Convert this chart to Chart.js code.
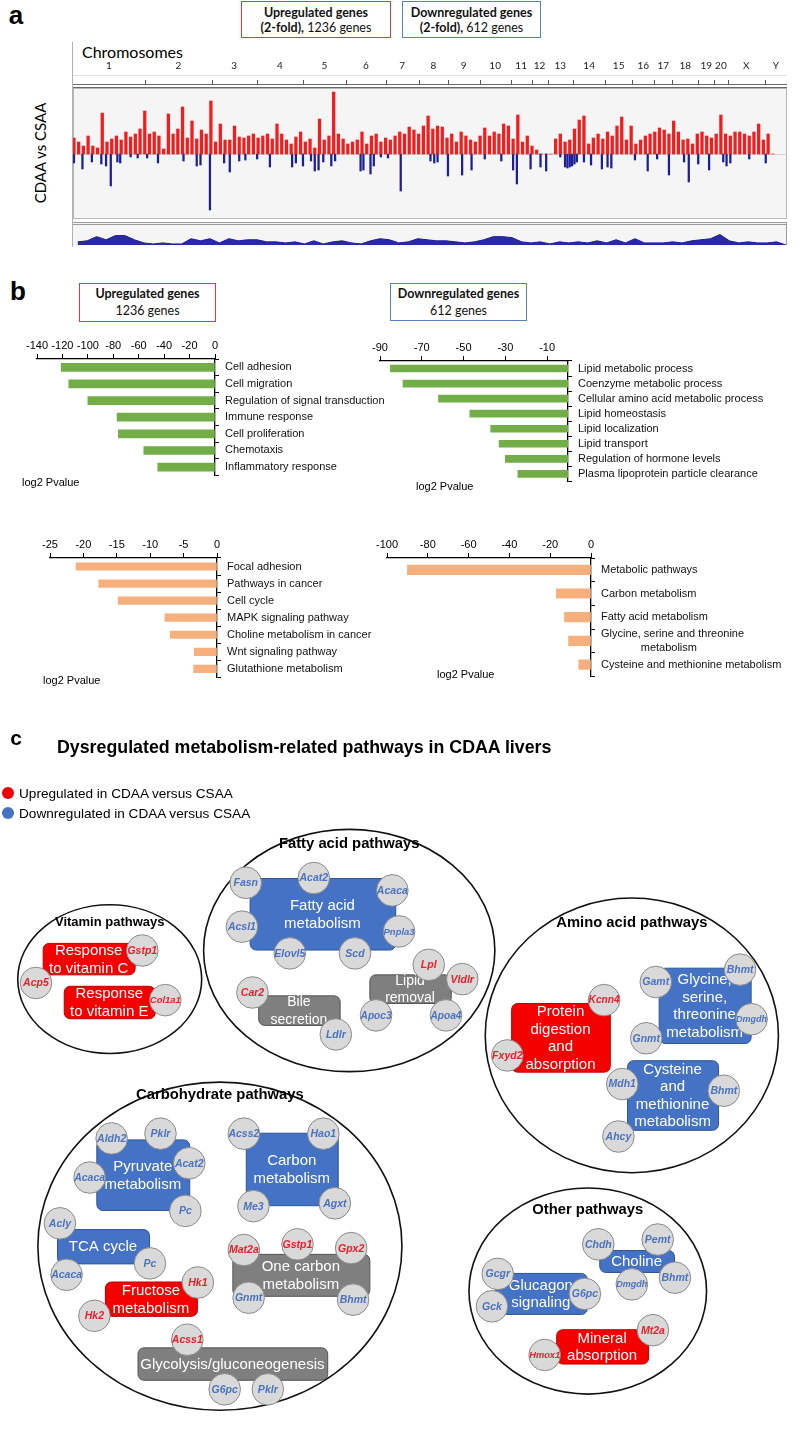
<!DOCTYPE html>
<html>
<head>
<meta charset="utf-8">
<script src="https://cdn.jsdelivr.net/npm/chart.js@4.4.1/dist/chart.umd.min.js"></script>
<style>
  body { margin: 0; background: #fff; }
  #page { position: relative; width: 800px; height: 1429px; overflow: hidden; font-family: 'Liberation Sans', Arial, sans-serif; color: #000; }
  canvas { position: absolute; }
  .t { position: absolute; white-space: nowrap; transform: translate(-50%, -50%); line-height: 1; }
  .l { position: absolute; white-space: nowrap; transform: translateY(-50%); line-height: 1; }
  .hbox { position: absolute; box-sizing: border-box; text-align: center; font-family: Lato, 'Open Sans', sans-serif; color: #111; }
  .dot { position: absolute; width: 12px; height: 12px; border-radius: 50%; }
</style>
</head>
<body>
<div id="page">
  <!-- panel a -->
  <div class="t" style="left:16px;top:15px;font:bold 26px 'Liberation Sans',Arial">a</div>
  <div class="hbox" style="left:241px;top:1px;width:150px;height:37px;border:1.5px solid #e03a3a;font-size:12.5px;line-height:15px;padding-top:3px">
    <b>Upregulated genes</b><br><b>(2-fold),</b> 1236 genes</div>
  <div class="hbox" style="left:402px;top:1px;width:139px;height:37px;border:1.5px solid #5a7fc0;font-size:12.5px;line-height:15px;padding-top:3px">
    <b>Downregulated genes</b><br><b>(2-fold),</b> 612 genes</div>
  <div class="l" style="left:82px;top:51px;font:16px Lato,sans-serif">Chromosomes</div>
  <div class="t" style="left:40px;top:153px;font:15px Lato,sans-serif;transform:translate(-50%,-50%) rotate(-90deg)">CDAA vs CSAA</div>
  <div style="position:absolute;left:72px;top:42px;width:1px;height:205px;background:#b0b0b0"></div>
  <canvas id="genome" width="740" height="180" style="left:60px;top:40px"></canvas>
  <canvas id="density" width="740" height="26" style="left:60px;top:220px"></canvas>

  <!-- panel b -->
  <div class="t" style="left:18px;top:291px;font:bold 26px 'Liberation Sans',Arial">b</div>
  <div class="hbox" style="left:79px;top:283px;width:137px;height:39px;border:1.5px solid #e03a3a;font-size:12.5px;line-height:17px;padding-top:1px">
    <b>Upregulated genes</b><br>1236 genes</div>
  <div class="hbox" style="left:390px;top:283px;width:137px;height:38px;border:1.5px solid #5a7fc0;font-size:12.5px;line-height:17px;padding-top:1px">
    <b>Downregulated genes</b><br>612 genes</div>
  <canvas id="goUp" width="400" height="157" style="left:0;top:331px"></canvas>
  <canvas id="goDown" width="440" height="161" style="left:360px;top:333px"></canvas>
  <canvas id="keggUp" width="400" height="160" style="left:0;top:530px"></canvas>
  <canvas id="keggDown" width="440" height="159" style="left:360px;top:530px"></canvas>
  <div class="l" style="left:22px;top:482px;font-size:11px">log2 Pvalue</div>
  <div class="l" style="left:416px;top:486px;font-size:11px">log2 Pvalue</div>
  <div class="l" style="left:43px;top:680px;font-size:11px">log2 Pvalue</div>
  <div class="l" style="left:437px;top:674px;font-size:11px">log2 Pvalue</div>

  <!-- panel c -->
  <canvas id="pathways" width="800" height="729" style="left:0;top:700px"></canvas>
  <div class="t" style="left:16px;top:738px;font:bold 21px 'Liberation Sans',Arial">c</div>
  <div class="l" style="left:57px;top:747px;font:bold 17.8px 'Liberation Sans',Arial">Dysregulated metabolism-related pathways in CDAA livers</div>
  <div class="dot" style="left:2px;top:787px;background:#f00000"></div>
  <div class="l" style="left:19px;top:794px;font-size:13.6px">Upregulated in CDAA versus CSAA</div>
  <div class="dot" style="left:2px;top:807px;background:#4472c4"></div>
  <div class="l" style="left:19px;top:814px;font-size:13.6px">Downregulated in CDAA versus CSAA</div>
</div>

<script>
const SANS = "'Liberation Sans', Arial, sans-serif";

// ---------- panel a: genome-wide fold changes ----------
const chromNames = ['1','2','3','4','5','6','7','8','9','10','11','12','13','14','15','16','17','18','19','20','X','Y'];
const chromEnd = [152, 294, 389, 487, 578, 662, 732, 794, 861, 927, 971, 1005, 1059, 1127, 1184, 1231, 1269, 1324, 1358, 1386, 1465, 1512];
// up-regulated signal, one value every 10 genome units
const upFold = [
  16, 12, 8, 18, 8, 6, 41, 12, 15, 18,
  14, 22, 17, 20, 25, 43, 20, 22, 18, 5,
  40, 20, 25, 47, 16, 33, 15, 24, 20, 53,
  12, 30, 14, 14, 28, 17, 16, 18, 20, 16,
  18, 20, 15, 30, 20, 14, 10, 17, 22, 12,
  15, 6, 35, 14, 18, 62, 20, 15, 10, 12,
  14, 22, 10, 18, 20, 12, 16, 14, 18, 22,
  20, 27, 24, 20, 28, 38, 25, 28, 27, 16,
  20, 12, 22, 18, 14, 12, 18, 26, 18, 22,
  20, 30, 28, 15, 39, 12, 18, 8, 4, 0,
  0, 0, 15, 20, 12, 14, 25, 34, 38, 10,
  16, 20, 15, 22, 18, 28, 37, 14, 28, 10,
  14, 18, 20, 22, 26, 24, 20, 33, 22, 14,
  15, 10, 20, 22, 18, 16, 20, 39, 20, 18,
  22, 22, 20, 18, 22, 30, 14, 20, 0
];
const downPos = [
  2, 20, 40, 60, 70, 80, 94, 100, 122, 137,
  157, 180, 234, 262, 270, 290, 320, 332, 352, 365,
  390, 417, 464, 472, 487, 504, 512, 520, 530, 547,
  555, 609, 615, 630, 637, 652, 667, 694, 757, 765,
  772, 794, 824, 844, 872, 907, 932, 940, 969, 990,
  1002, 1032, 1042, 1047, 1052, 1057, 1062, 1067, 1082, 1097,
  1120, 1132, 1140, 1190, 1217, 1237, 1262, 1294, 1304, 1324,
  1347, 1377, 1384, 1392, 1432, 1467
];
const downFold = [
  9, 15, 8, 10, 12, 32, 8, 9, 3, 4,
  4, 9, 7, 12, 11, 56, 9, 18, 7, 6,
  5, 13, 13, 9, 12, 7, 17, 16, 8, 12,
  7, 17, 16, 20, 12, 3, 4, 37, 7, 9,
  8, 22, 21, 16, 5, 7, 16, 30, 15, 13,
  17, 3, 13, 14, 13, 12, 10, 8, 8, 11,
  15, 13, 14, 6, 17, 5, 21, 8, 28, 10,
  16, 8, 12, 9, 5, 9
];
// gene density track, one value every 20 genome units
const density = [
  3, 4, 8, 5, 9, 9, 5, 2, 1, 2, 1, 1, 6, 4, 6, 2, 6, 4, 5, 5,
  3, 3, 2, 3, 1, 4, 1, 3, 4, 2, 1, 4, 6, 5, 2, 3, 6, 5, 4, 4,
  3, 2, 3, 5, 8, 8, 7, 3, 2, 3, 1, 3, 2, 3, 2, 4, 2, 5, 2, 6,
  2, 2, 2, 3, 2, 4, 5, 6, 10, 4, 2, 3, 2, 2, 3, 0
];

// ---------- panel b: enrichment ----------
const goUpTerms = ['Cell adhesion', 'Cell migration', 'Regulation of signal transduction', 'Immune response', 'Cell proliferation', 'Chemotaxis', 'Inflammatory response'];
const goUpLog2P = [-121, -115, -100, -77, -76, -56, -45];
const goUpTicks = [-140, -120, -100, -80, -60, -40, -20, 0];

const goDownTerms = ['Lipid metabolic process', 'Coenzyme metabolic process', 'Cellular amino acid metabolic process', 'Lipid homeostasis', 'Lipid localization', 'Lipid transport', 'Regulation of hormone levels', 'Plasma lipoprotein particle clearance'];
const goDownLog2P = [-85, -79, -62, -47, -37, -33, -30, -24];
const goDownTicks = [-90, -70, -50, -30, -10];

const keggUpTerms = ['Focal adhesion', 'Pathways in cancer', 'Cell cycle', 'MAPK signaling pathway', 'Choline metabolism in cancer', 'Wnt signaling pathway', 'Glutathione metabolism'];
const keggUpLog2P = [-21.1, -17.7, -14.8, -7.8, -7.0, -3.4, -3.5];
const keggUpTicks = [-25, -20, -15, -10, -5, 0];

const keggDownTerms = ['Metabolic pathways', 'Carbon metabolism', 'Fatty acid metabolism', ['Glycine, serine and threonine', '             metabolism'], 'Cysteine and methionine metabolism'];
const keggDownLog2P = [-90, -17, -13, -11, -6];
const keggDownTicks = [-100, -80, -60, -40, -20, 0];

// ---------- panel c: pathway map ----------
const groupNames = ['Fatty acid pathways', 'Vitamin pathways', 'Amino acid pathways', 'Carbohydrate pathways', 'Other pathways'];
const groupX = [347, 97, 642, 212, 596];
const groupY = [945, 975, 1034, 1255, 1302];
const groupRx = [152, 96, 153, 190, 124];
const groupRy = [127, 78, 144, 172, 108];
const groupTitleY = [833, 916, 916, 1096, 1217];
const groupTitleSize = [14.8, 13, 14.8, 14.8, 14.8];

// pathway boxes: text, regulation, x1, y1, x2, y2
const pathways = [
  ['Response\nto vitamin C', 'up', 27, 937, 123, 970],
  ['Response\nto vitamin E', 'up', 49, 982, 144, 1016],
  ['Fatty acid\nmetabolism', 'down', 243, 869, 395, 944],
  ['Bile\nsecretion', 'mixed', 252, 992, 337, 1023],
  ['Lipid\nremoval', 'mixed', 368, 970, 453, 1000],
  ['Protein\ndigestion\nand\nabsorption', 'up', 516, 1000, 619, 1072],
  ['Glycine,\nserine,\nthreonine\nmetabolism', 'down', 670, 963, 766, 1042],
  ['Cysteine\nand\nmethionine\nmetabolism', 'down', 637, 1060, 732, 1133],
  ['Pyruvate\nmetabolism', 'down', 83, 1143, 180, 1217],
  ['Carbon\nmetabolism', 'down', 239, 1136, 335, 1212],
  ['TCA cycle', 'down', 42, 1237, 138, 1273],
  ['Fructose\nmetabolism', 'up', 92, 1292, 188, 1328],
  ['One carbon\nmetabolism', 'mixed', 225, 1263, 368, 1307],
  ['Glycolysis/gluconeogenesis', 'mixed', 126, 1361, 324, 1395],
  ['Choline', 'down', 608, 1259, 686, 1282],
  ['Glucagon\nsignaling', 'down', 499, 1283, 595, 1326],
  ['Mineral\nabsorption', 'up', 563, 1342, 659, 1378]
];

// genes: name, x, y, regulation
const genes = [
  ['Gstp1', 131, 945, 'up'], ['Acp5', 20, 979, 'up'], ['Col1a1', 155, 997, 'up'],
  ['Fasn', 239, 874, 'down'], ['Acat2', 310, 869, 'down'], ['Acaca', 392, 882, 'down'],
  ['Acsl1', 235, 920, 'down'], ['Pnpla3', 399, 925, 'down'], ['Elovl5', 285, 948, 'down'],
  ['Scd', 353, 948, 'down'], ['Car2', 246, 989, 'up'], ['Ldlr', 333, 1033, 'down'],
  ['Lpl', 430, 960, 'up'], ['Vldlr', 465, 975, 'up'], ['Apoc3', 375, 1013, 'down'], ['Apoa4', 448, 1013, 'down'],
  ['Kcnn4', 613, 997, 'up'], ['Fxyd2', 512, 1055, 'up'], ['Gamt', 667, 978, 'down'],
  ['Bhmt', 755, 965, 'down'], ['Dmgdh', 767, 1017, 'down'], ['Gnmt', 657, 1037, 'down'],
  ['Mdh1', 632, 1085, 'down'], ['Bhmt', 738, 1092, 'down'], ['Ahcy', 628, 1140, 'down'],
  ['Aldh2', 99, 1142, 'down'], ['Pklr', 150, 1137, 'down'], ['Acat2', 180, 1168, 'down'],
  ['Acaca', 76, 1183, 'down'], ['Pc', 176, 1218, 'down'], ['Acss2', 237, 1137, 'down'],
  ['Hao1', 320, 1137, 'down'], ['Me3', 247, 1213, 'down'], ['Agxt', 332, 1210, 'down'],
  ['Acly', 45, 1231, 'down'], ['Pc', 139, 1273, 'down'], ['Acaca', 52, 1285, 'down'],
  ['Hk1', 189, 1293, 'up'], ['Hk2', 81, 1328, 'up'], ['Mat2a', 237, 1259, 'up'],
  ['Gstp1', 293, 1253, 'up'], ['Gpx2', 349, 1257, 'up'], ['Gnmt', 242, 1309, 'down'],
  ['Bhmt', 351, 1311, 'down'], ['Acss1', 178, 1353, 'up'], ['G6pc', 217, 1405, 'down'], ['Pklr', 262, 1405, 'down'],
  ['Chdh', 607, 1253, 'down'], ['Pemt', 669, 1248, 'down'], ['Dmgdh', 642, 1295, 'down'],
  ['Bhmt', 687, 1288, 'down'], ['Gcgr', 502, 1284, 'down'], ['G6pc', 593, 1305, 'down'],
  ['Gck', 496, 1318, 'down'], ['Mt2a', 664, 1343, 'up'], ['Hmox1', 551, 1369, 'up']
];

const noLegend = { legend: { display: false }, tooltip: { enabled: false } };

// header, plot background and baseline for the genome track
const genomeFrame = {
  id: 'genomeFrame',
  beforeDatasetsDraw(chart) {
    const { ctx, chartArea: a, scales: { x, y } } = chart;
    ctx.save();
    ctx.fillStyle = '#f5f5f5';
    ctx.fillRect(a.left, a.top, a.right - a.left, a.bottom - a.top);
    ctx.strokeStyle = '#b8b8b8';
    ctx.lineWidth = 1;
    ctx.strokeRect(a.left + 0.5, a.top + 0.5, a.right - a.left - 1, a.bottom - a.top - 1);
    const y0 = Math.round(y.getPixelForValue(0)) + 0.5;
    ctx.strokeStyle = '#d0d0d0';
    ctx.beginPath(); ctx.moveTo(a.left, y0); ctx.lineTo(a.right, y0); ctx.stroke();
    // header double line
    ctx.strokeStyle = '#6a6a6a';
    ctx.beginPath();
    ctx.moveTo(a.left, a.top - 3.5); ctx.lineTo(a.right, a.top - 3.5);
    ctx.moveTo(a.left, a.top - 0.5); ctx.lineTo(a.right, a.top - 0.5);
    ctx.stroke();
    ctx.strokeStyle = '#e2e2e2';
    ctx.beginPath(); ctx.moveTo(a.left, a.top - 12.5); ctx.lineTo(a.right, a.top - 12.5); ctx.stroke();
    // chromosome boundaries and names
    ctx.strokeStyle = '#555';
    ctx.fillStyle = '#222';
    ctx.font = '10px Lato, sans-serif';
    ctx.textAlign = 'center';
    ctx.textBaseline = 'middle';
    let start = 0;
    chromEnd.forEach((end, i) => {
      const px = Math.round(x.getPixelForValue(end)) + 0.5;
      if (i < chromEnd.length - 1) {
        ctx.beginPath(); ctx.moveTo(px, a.top - 8); ctx.lineTo(px, a.top - 3.5); ctx.stroke();
      }
      ctx.fillText(chromNames[i], x.getPixelForValue((start + end) / 2), a.top - 22);
      start = end;
    });
    ctx.restore();
  }
};

new Chart(document.getElementById('genome'), {
  type: 'bar',
  data: {
    datasets: [
      { data: upFold.map((v, i) => ({ x: 2 + 10 * i, y: v })), backgroundColor: '#f41c1c', barThickness: 2.6, grouped: false },
      { data: downPos.map((p, i) => ({ x: p, y: -downFold[i] })), backgroundColor: '#1e1e96', barThickness: 1.6, grouped: false }
    ]
  },
  options: {
    responsive: false, animation: false,
    layout: { padding: { left: 13, right: 13, top: 48, bottom: 1 } },
    plugins: noLegend,
    scales: {
      x: { type: 'linear', min: 0, max: 1512, offset: false, display: false },
      y: { min: -65, max: 66, display: false }
    }
  },
  plugins: [genomeFrame]
});

const densityFrame = {
  id: 'densityFrame',
  beforeDatasetsDraw(chart) {
    const { ctx, chartArea: a } = chart;
    ctx.save();
    ctx.fillStyle = '#f5f5f5';
    ctx.fillRect(a.left, a.top, a.right - a.left, a.bottom - a.top);
    ctx.strokeStyle = '#9a9a9a';
    ctx.beginPath();
    ctx.moveTo(a.left, a.top + 0.5); ctx.lineTo(a.right, a.top + 0.5);
    ctx.moveTo(a.left, a.top + 2.5); ctx.lineTo(a.right, a.top + 2.5);
    ctx.moveTo(a.right - 0.5, a.top); ctx.lineTo(a.right - 0.5, a.bottom);
    ctx.stroke();
    ctx.restore();
  }
};

new Chart(document.getElementById('density'), {
  type: 'line',
  data: {
    datasets: [{
      data: density.map((v, i) => ({ x: 10 + 20 * i, y: v })),
      borderColor: '#1e1e96', backgroundColor: '#2a2aa0', borderWidth: 1,
      fill: 'origin', pointRadius: 0, tension: 0
    }]
  },
  options: {
    responsive: false, animation: false,
    layout: { padding: { left: 13, right: 13, top: 2, bottom: 1 } },
    plugins: noLegend,
    scales: {
      x: { type: 'linear', min: 0, max: 1512, display: false },
      y: { min: 0, max: 22, display: false }
    }
  },
  plugins: [densityFrame]
});

// ---------- panel b charts ----------
function termChart(id, terms, values, color, tickValues, min, opts) {
  return new Chart(document.getElementById(id), {
    type: 'bar',
    data: { labels: terms, datasets: [{ data: values, backgroundColor: color, barThickness: opts.bar }] },
    options: {
      indexAxis: 'y', responsive: false, animation: false,
      layout: { padding: { left: opts.left, right: 0, top: 0, bottom: 0 } },
      plugins: noLegend,
      scales: {
        x: {
          type: 'linear', position: 'top', min: min, max: 0,
          afterBuildTicks: s => { s.ticks = tickValues.map(v => ({ value: v })); },
          afterFit: s => { s.height = 28; },
          grid: { drawOnChartArea: false, drawTicks: true, tickLength: 5, color: '#000', lineWidth: 1 },
          border: { color: '#000', width: 1.3 },
          ticks: { color: '#000', font: { family: SANS, size: 11 }, padding: 1, maxRotation: 0, autoSkip: false }
        },
        y: {
          position: 'right',
          afterFit: s => { s.width = opts.yWidth; },
          grid: { drawOnChartArea: false, offset: true, tickLength: 4, color: '#000', lineWidth: 1 },
          border: { color: '#000', width: 1.3 },
          ticks: { color: '#111', font: { family: SANS, size: 11 }, padding: 6, autoSkip: false }
        }
      }
    }
  });
}

termChart('goUp', goUpTerms, goUpLog2P, '#72ad47', goUpTicks, -140, { left: 37, yWidth: 185, bar: 8 });
termChart('goDown', goDownTerms, goDownLog2P, '#72ad47', goDownTicks, -90, { left: 20, yWidth: 232, bar: 7 });
termChart('keggUp', keggUpTerms, keggUpLog2P, '#f5b07e', keggUpTicks, -25, { left: 50, yWidth: 183, bar: 7.5 });
termChart('keggDown', keggDownTerms, keggDownLog2P, '#f5b07e', keggDownTicks, -100, { left: 27, yWidth: 209, bar: 9.5 });

// ---------- panel c ----------
const boxFill = { up: '#f50000', down: '#4472c4', mixed: '#7f7f7f' };
const boxEdge = { up: '#b80000', down: '#2f5597', mixed: '#555555' };
const geneInk = { up: '#e8202a', down: '#4a72bf' };

const pathwayMap = {
  id: 'pathwayMap',
  beforeDatasetsDraw(chart) {
    const { ctx, scales: { x, y } } = chart;
    ctx.save();
    // pathway groups
    groupNames.forEach((name, i) => {
      const cx = x.getPixelForValue(groupX[i]), cy = y.getPixelForValue(groupY[i]);
      const rx = x.getPixelForValue(groupX[i] + groupRx[i]) - cx;
      const ry = y.getPixelForValue(groupY[i] + groupRy[i]) - cy;
      ctx.beginPath();
      ctx.ellipse(cx, cy, rx, Math.abs(ry), 0, 0, Math.PI * 2);
      ctx.strokeStyle = '#111';
      ctx.lineWidth = 1.6;
      ctx.stroke();
      ctx.fillStyle = '#000';
      ctx.font = 'bold ' + groupTitleSize[i] + 'px ' + SANS;
      ctx.textAlign = 'center';
      ctx.textBaseline = 'middle';
      ctx.fillText(name, cx, y.getPixelForValue(groupTitleY[i]));
    });
    // pathway boxes
    pathways.forEach(([text, reg, x1, y1, x2, y2]) => {
      const px1 = x.getPixelForValue(x1), px2 = x.getPixelForValue(x2);
      const py1 = y.getPixelForValue(y1), py2 = y.getPixelForValue(y2);
      ctx.beginPath();
      ctx.roundRect(px1 + 0.5, py1 + 0.5, px2 - px1, py2 - py1, 6);
      ctx.fillStyle = boxFill[reg];
      ctx.fill();
      ctx.strokeStyle = boxEdge[reg];
      ctx.lineWidth = 1;
      ctx.stroke();
      const lines = text.split('\n');
      const size = reg === 'mixed' && lines.length === 2 && text.length < 18 ? 14 : 15;
      ctx.font = size + 'px ' + SANS;
      ctx.fillStyle = '#fff';
      const cx = (px1 + px2) / 2, cy = (py1 + py2) / 2;
      lines.forEach((ln, k) => ctx.fillText(ln, cx, cy + (k - (lines.length - 1) / 2) * 17.5 + 1));
    });
    ctx.restore();
  },
  afterDatasetsDraw(chart) {
    const { ctx, scales: { x, y } } = chart;
    ctx.save();
    ctx.textAlign = 'center';
    ctx.textBaseline = 'middle';
    genes.forEach(([name, gx, gy, reg]) => {
      let size = 10.5;
      ctx.font = 'italic bold ' + size + 'px ' + SANS;
      const w = ctx.measureText(name).width;
      if (w > 31) { size = size * 31 / w; ctx.font = 'italic bold ' + size + 'px ' + SANS; }
      ctx.fillStyle = geneInk[reg];
      ctx.fillText(name, x.getPixelForValue(gx), y.getPixelForValue(gy) + 0.5);
    });
    ctx.restore();
  }
};

const genePoint = { pointRadius: 15.8, pointBackgroundColor: '#d9d9d9', pointBorderColor: '#8a8a8a', pointBorderWidth: 1, clip: false };

new Chart(document.getElementById('pathways'), {
  type: 'scatter',
  data: {
    datasets: [
      Object.assign({ data: genes.filter(g => g[3] === 'up').map(g => ({ x: g[1], y: g[2] })) }, genePoint),
      Object.assign({ data: genes.filter(g => g[3] === 'down').map(g => ({ x: g[1], y: g[2] })) }, genePoint)
    ]
  },
  options: {
    responsive: false, animation: false,
    layout: { padding: 0 },
    plugins: noLegend,
    scales: {
      x: { type: 'linear', min: 0, max: 800, display: false },
      y: { type: 'linear', min: 700, max: 1429, reverse: true, display: false }
    }
  },
  plugins: [pathwayMap]
});
</script>
</body>
</html>
